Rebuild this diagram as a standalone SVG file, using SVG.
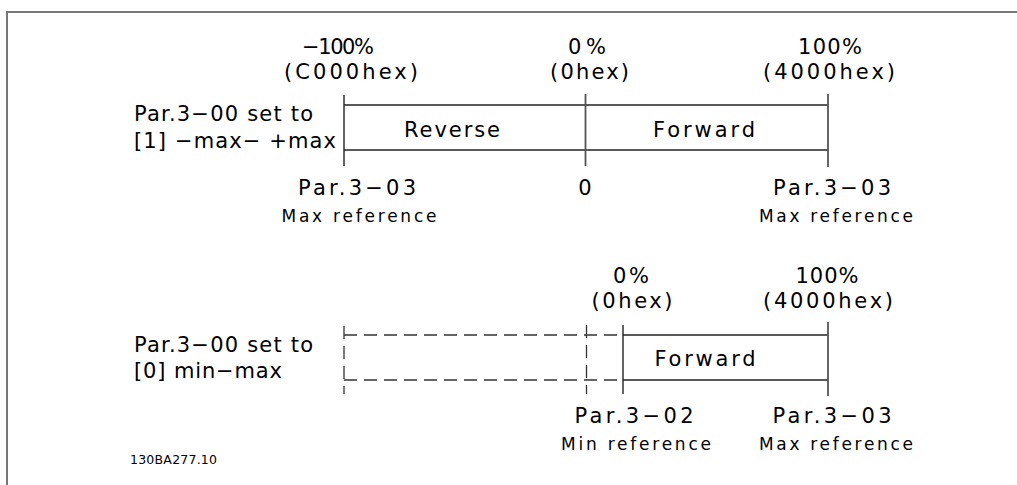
<svg xmlns="http://www.w3.org/2000/svg" width="1017" height="485" viewBox="0 0 1017 485">
<style>
text{font-family:"DejaVu Sans","Liberation Sans",Arial,sans-serif;fill:#000;}
.l{font-size:21px;}
.s{font-size:17px;}
.t{font-size:12.5px;}
.m{text-anchor:middle;}
.frame{stroke:#777;stroke-width:2;fill:none;}
.ln{stroke:#222;stroke-width:1.4;fill:none;}
.vl{stroke:#555;stroke-width:1.8;fill:none;}
.dl{stroke:#333;stroke-width:1.3;fill:none;stroke-dasharray:13 7;}
</style>
<rect width="1017" height="485" fill="#fff"/>
<path class="frame" d="M7 485 V12 H1017"/>
<g id="connectors">
<line class="ln" x1="344" y1="105" x2="828" y2="105"/>
<line class="ln" x1="344" y1="150" x2="828" y2="150"/>
<line class="ln" x1="344" y1="95" x2="344" y2="166"/>
<line class="vl" x1="585.5" y1="94" x2="585.5" y2="166"/>
<line class="vl" x1="828" y1="94" x2="828" y2="167"/>
<line class="ln" x1="623" y1="335" x2="828" y2="335"/>
<line class="ln" x1="623" y1="380" x2="828" y2="380"/>
<line class="ln" x1="623" y1="325" x2="623" y2="394"/>
<line class="vl" x1="828" y1="322" x2="828" y2="396"/>
<line class="dl" x1="344" y1="335" x2="623" y2="335"/>
<line class="dl" x1="344" y1="380" x2="623" y2="380"/>
<line class="dl" x1="344" y1="326" x2="344" y2="394"/>
<line class="dl" x1="586.5" y1="325" x2="586.5" y2="394"/>
</g>
<g id="top-scale">
<text class="l m" x="338" y="54" textLength="72" lengthAdjust="spacing">−100%</text>
<text class="l m" x="351" y="79" textLength="134" lengthAdjust="spacing">(C000hex)</text>
<text class="l m" x="587" y="54" textLength="38" lengthAdjust="spacing">0%</text>
<text class="l m" x="589.5" y="79" textLength="79" lengthAdjust="spacing">(0hex)</text>
<text class="l m" x="830" y="54" textLength="64" lengthAdjust="spacing">100%</text>
<text class="l m" x="829" y="79" textLength="132" lengthAdjust="spacing">(4000hex)</text>
</g>
<g id="top-label">
<text class="l" x="134" y="121" textLength="179" lengthAdjust="spacing">Par.3−00 set to</text>
<text class="l" x="134" y="148" textLength="202" lengthAdjust="spacing">[1] −max− +max</text>
</g>
<g id="reverse">
<text class="l m" x="452" y="137" textLength="96" lengthAdjust="spacing">Reverse</text>
</g>
<g id="forward-top">
<text class="l m" x="704" y="137" textLength="102" lengthAdjust="spacing">Forward</text>
</g>
<g id="top-bottom-labels">
<text class="l m" x="357" y="195" textLength="118" lengthAdjust="spacing">Par.3−03</text>
<text class="s m" x="359" y="222" textLength="155" lengthAdjust="spacing">Max reference</text>
<text class="l m" x="585" y="195">0</text>
<text class="l m" x="832" y="195" textLength="118" lengthAdjust="spacing">Par.3−03</text>
<text class="s m" x="836" y="222" textLength="154" lengthAdjust="spacing">Max reference</text>
</g>
<g id="bottom-scale">
<text class="l m" x="631" y="283" textLength="36" lengthAdjust="spacing">0%</text>
<text class="l m" x="632" y="308" textLength="81" lengthAdjust="spacing">(0hex)</text>
<text class="l m" x="827" y="283" textLength="63" lengthAdjust="spacing">100%</text>
<text class="l m" x="828" y="308" textLength="130" lengthAdjust="spacing">(4000hex)</text>
</g>
<g id="bottom-label">
<text class="l" x="134" y="352" textLength="179" lengthAdjust="spacing">Par.3−00 set to</text>
<text class="l" x="134" y="378" textLength="148" lengthAdjust="spacing">[0] min−max</text>
</g>
<g id="forward-bottom">
<text class="l m" x="705" y="366" textLength="101" lengthAdjust="spacing">Forward</text>
</g>
<g id="bottom-bottom-labels">
<text class="l m" x="634" y="423" textLength="119" lengthAdjust="spacing">Par.3−02</text>
<text class="s m" x="636" y="450" textLength="150" lengthAdjust="spacing">Min reference</text>
<text class="l m" x="832" y="423" textLength="119" lengthAdjust="spacing">Par.3−03</text>
<text class="s m" x="836" y="450" textLength="154" lengthAdjust="spacing">Max reference</text>
</g>
<g id="code">
<text class="t" x="130" y="464" textLength="87" lengthAdjust="spacing">130BA277.10</text>
</g>
</svg>
